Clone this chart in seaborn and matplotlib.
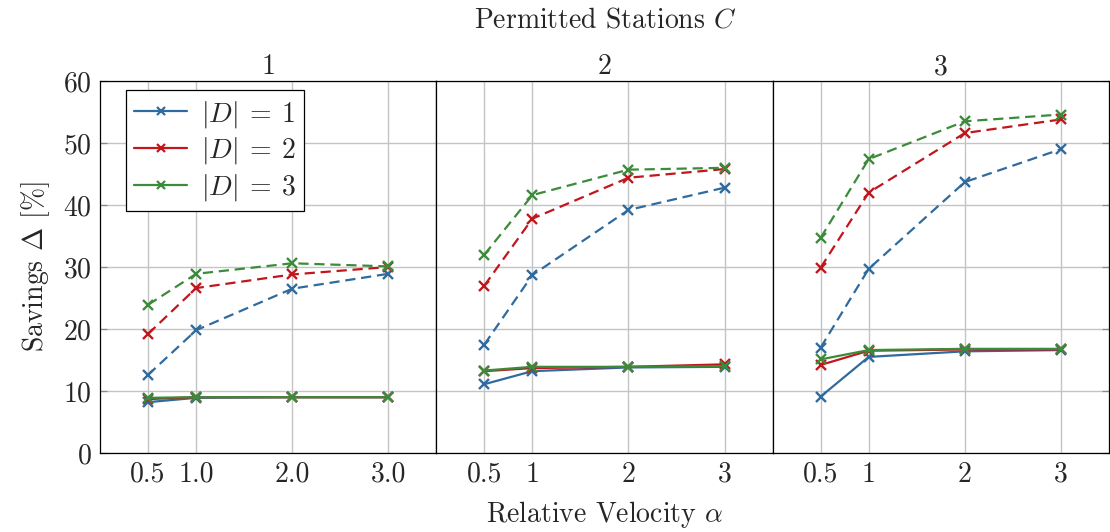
import matplotlib
matplotlib.use("Agg")
import matplotlib.pyplot as plt
from matplotlib.lines import Line2D
import pandas as pd
import seaborn as sns

# Relative velocity values on the x axis
alpha = [0.5, 1.0, 2.0, 3.0]
stations = [1, 2, 3]
d_sizes = [1, 2, 3]

# Savings (%) per permitted-station count; rows are |D| = 1, 2, 3
base_c1 = [[8.2, 8.9, 9.0, 9.0],
           [8.7, 9.0, 9.0, 9.0],
           [8.9, 9.0, 9.0, 9.0]]
base_c2 = [[11.1, 13.2, 13.8, 13.9],
           [13.2, 13.7, 13.9, 14.3],
           [13.3, 13.9, 13.9, 14.0]]
base_c3 = [[9.1, 15.5, 16.4, 16.6],
           [14.2, 16.5, 16.7, 16.7],
           [15.1, 16.6, 16.8, 16.8]]

ext_c1 = [[12.6, 19.8, 26.5, 28.9],
          [19.2, 26.6, 28.8, 30.0],
          [23.9, 28.9, 30.6, 30.1]]
ext_c2 = [[17.5, 28.7, 39.2, 42.8],
          [27.0, 37.8, 44.4, 45.8],
          [32.0, 41.6, 45.7, 46.0]]
ext_c3 = [[17.0, 29.7, 43.7, 49.0],
          [29.9, 42.0, 51.6, 53.8],
          [34.7, 47.4, 53.5, 54.6]]

tick_labels = {1: ["0.5", "1.0", "2.0", "3.0"],
               2: ["0.5", "1", "2", "3"],
               3: ["0.5", "1", "2", "3"]}

colors = {1: "#2f6b9e", 2: "#c2161d", 3: "#3b8b3b"}

rows = []
for c, base, ext in zip(stations, [base_c1, base_c2, base_c3], [ext_c1, ext_c2, ext_c3]):
    for i, d in enumerate(d_sizes):
        for a, v in zip(alpha, base[i]):
            rows.append(dict(C=c, alpha=a, D=d, kind="base", savings=v))
        for a, v in zip(alpha, ext[i]):
            rows.append(dict(C=c, alpha=a, D=d, kind="ext", savings=v))
df = pd.DataFrame(rows)

FS = 20

sns.set_theme(style="whitegrid")
plt.rcParams.update({
    "font.family": ["cmr10", "DejaVu Serif"],
    "mathtext.fontset": "cm",
    "axes.formatter.use_mathtext": True,
    "font.size": FS,
    "axes.edgecolor": "black",
    "axes.linewidth": 0.9,
    "grid.color": "#c4c4c4",
    "grid.linewidth": 1.0,
})

fig, axes = plt.subplots(1, 3, figsize=(11.1, 5.32), dpi=100, sharey=True)
fig.subplots_adjust(left=0.0901, right=0.999, top=0.8477, bottom=0.1485, wspace=0)

for ax, c in zip(axes, stations):
    sub = df[df.C == c]
    for d in d_sizes:
        for kind, ls in [("ext", (0, (4.6, 2.6))), ("base", "-")]:
            part = sub[(sub.D == d) & (sub.kind == kind)]
            sns.lineplot(data=part, x="alpha", y="savings", ax=ax, color=colors[d],
                         linewidth=1.6, linestyle=ls, marker="x", markersize=6.5,
                         markeredgewidth=1.7, markeredgecolor=colors[d],
                         legend=False, sort=False)
    ax.set_xlim(0, 3.5)
    ax.set_ylim(0, 60)
    ax.set_xticks(alpha)
    ax.set_xticklabels(tick_labels[c])
    ax.set_yticks(range(0, 61, 10))
    ax.set_xlabel("")
    ax.set_ylabel("")
    ax.set_title(str(c), fontsize=FS, pad=5)
    ax.tick_params(axis="both", direction="in", length=5, width=0.9,
                   color="#8a8a8a", labelsize=FS, pad=6)
    ax.tick_params(axis="y", left=(c == 1), right=(c == 3))
    for s in ax.spines.values():
        s.set_visible(True)
        s.set_color("black")
        s.set_linewidth(0.9)
    ax.grid(True)

handles = [Line2D([0], [0], color=colors[d], linewidth=1.6, marker="x",
                  markersize=6, markeredgewidth=1.6) for d in d_sizes]
labels = [rf"$|D|\:=\:{d}$" for d in d_sizes]
leg = axes[0].legend(handles, labels, loc="upper left", bbox_to_anchor=(0.077, 0.975),
                     frameon=True, fancybox=False, framealpha=1, edgecolor="black",
                     fontsize=FS, handlelength=1.9, handletextpad=0.5,
                     borderpad=0.3, labelspacing=0.2, borderaxespad=0)
leg.get_frame().set_linewidth(0.9)

axes[0].set_ylabel(r"Savings $\Delta$ [%]", fontsize=FS, labelpad=8)
fig.text(0.545, 0.962, r"Permitted Stations $C$", ha="center", va="center", fontsize=FS)
fig.text(0.545, 0.032, r"Relative Velocity $\alpha$", ha="center", va="center", fontsize=FS)

fig.savefig("out.png", dpi=100)
